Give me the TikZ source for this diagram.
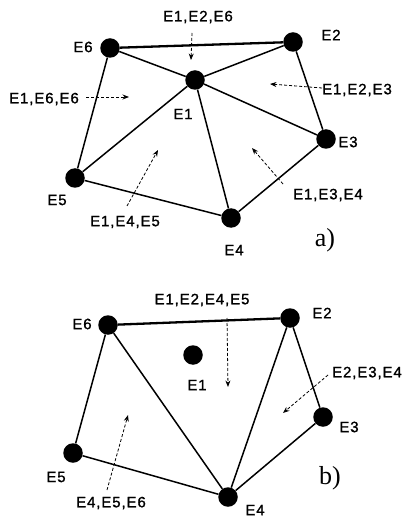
\documentclass[tikz,border=0pt]{standalone}
\usepackage{fontspec}
\setmainfont{Liberation Serif}
\newfontfamily\lblfont[LetterSpace=6,FakeBold=1.2]{Liberation Sans}
\usetikzlibrary{arrows.meta}

\begin{document}
\begin{tikzpicture}[x=1pt,y=-1pt,
  vertex/.style={circle,fill=black,inner sep=0pt,minimum size=19.5pt},
  edge/.style={line width=1.5pt},
  topedge/.style={line width=2.3pt},
  lbl/.style={font=\fontsize{15}{15}\lblfont,inner sep=0pt},
  pointer/.style={line width=0.8pt,dash pattern=on 3pt off 2pt,
    -{Stealth[length=6.5pt,width=5pt]}},
  tag/.style={font=\fontsize{26}{26}\selectfont,inner sep=0pt}
]
\useasboundingbox (0,0) rectangle (401,518);

% ---------- a) triangulation around E1 ----------
\node[vertex] (a6) at (110,48) {};
\node[vertex] (a2) at (293,42) {};
\node[vertex] (a1) at (195,80) {};
\node[vertex] (a3) at (326,139) {};
\node[vertex] (a5) at (75,178) {};
\node[vertex] (a4) at (231,218) {};

\draw[topedge] (a6) -- (a2);
\draw[edge] (a6) -- (a1) (a2) -- (a1) (a2) -- (a3) (a1) -- (a3)
            (a1) -- (a4) (a1) -- (a5) (a6) -- (a5) (a5) -- (a4) (a4) -- (a3);

\node[lbl] (la6) at (83,47) {E6};
\node[lbl] (la2) at (331,35) {E2};
\node[lbl] (la1) at (183,114) {E1};
\node[lbl] (la3) at (348,142) {E3};
\node[lbl] (la5) at (57,200) {E5};
\node[lbl] (la4) at (234,250) {E4};

\node[lbl] (ta126) at (198,17) {E1,E2,E6};
\node[lbl] (ta156) at (44,99) {E1,E6,E6};
\node[lbl] (ta123) at (357,90) {E1,E2,E3};
\node[lbl] (ta134) at (328,195) {E1,E3,E4};
\node[lbl] (ta145) at (125,222) {E1,E4,E5};

\coordinate (sa126) at (192,33);  \coordinate (ea126) at (191,60);
\coordinate (sa156) at (86,97);   \coordinate (ea156) at (129,97);
\coordinate (sa123) at (322,88);  \coordinate (ea123) at (270,84);
\coordinate (sa134) at (283,184); \coordinate (ea134) at (252,148);
\coordinate (sa145) at (127,206); \coordinate (ea145) at (158,150);
\draw[pointer] (sa126) -- (ea126);
\draw[pointer] (sa156) -- (ea156);
\draw[pointer] (sa123) -- (ea123);
\draw[pointer] (sa134) -- (ea134);
\draw[pointer] (sa145) -- (ea145);

\node[tag] (taga) at (325,240) {a)};

% ---------- b) E1 removed, hole retriangulated ----------
\node[vertex] (b6) at (108,325) {};
\node[vertex] (b2) at (290,318) {};
\node[vertex] (b1) at (193,355) {};
\node[vertex] (b3) at (323,417) {};
\node[vertex] (b5) at (73,453) {};
\node[vertex] (b4) at (228,497) {};

\draw[topedge] (b6) -- (b2);
\draw[edge] (b6) -- (b5) (b6) -- (b4) (b5) -- (b4)
            (b2) -- (b4) (b2) -- (b3) (b3) -- (b4);

\node[lbl] (lb6) at (82,324) {E6};
\node[lbl] (lb2) at (322,313) {E2};
\node[lbl] (lb1) at (197,385) {E1};
\node[lbl] (lb3) at (349,427) {E3};
\node[lbl] (lb5) at (56,477) {E5};
\node[lbl] (lb4) at (255,510) {E4};

\node[lbl] (tb1245) at (202,300) {E1,E2,E4,E5};
\node[lbl] (tb234) at (367,373) {E2,E3,E4};
\node[lbl] (tb456) at (111,503) {E4,E5,E6};

\coordinate (sb1245) at (227,318); \coordinate (eb1245) at (228,387);
\coordinate (sb234) at (328,375);  \coordinate (eb234) at (283,413);
\coordinate (sb456) at (107,490);  \coordinate (eb456) at (128,415);
\draw[pointer] (sb1245) -- (eb1245);
\draw[pointer] (sb234) -- (eb234);
\draw[pointer] (sb456) -- (eb456);

\node[tag] (tagb) at (330,478) {b)};
\end{tikzpicture}
\end{document}
